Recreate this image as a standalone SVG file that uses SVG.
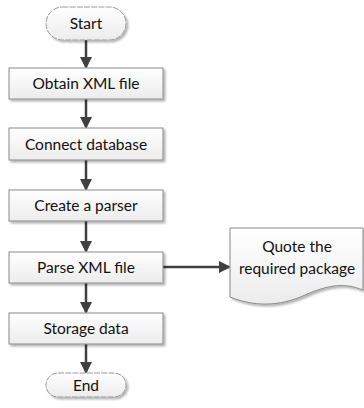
<svg xmlns="http://www.w3.org/2000/svg" width="364" height="408" viewBox="0 0 364 408">
<style>
.box{fill:url(#g);stroke:#8a8a8a;stroke-width:1;filter:url(#sh)}
.term{fill:url(#g);stroke:#9a9a9a;stroke-width:1;stroke-dasharray:6 1.2;filter:url(#sh)}
.t{font-family:Lato,"Liberation Sans",sans-serif;font-size:15.5px;fill:#111;text-anchor:middle}
.c{stroke:#404040;stroke-width:2.5;fill:none;marker-end:url(#ah)}
</style>
<defs>
<linearGradient id="g" x1="0" y1="0" x2="0" y2="1">
<stop offset="0" stop-color="#ffffff"/>
<stop offset="1" stop-color="#ececec"/>
</linearGradient>
<filter id="sh" x="-10%" y="-10%" width="130%" height="140%">
<feGaussianBlur in="SourceAlpha" stdDeviation="1.2"/>
<feOffset dx="1.5" dy="1.5" result="b"/>
<feComponentTransfer><feFuncA type="linear" slope="0.3"/></feComponentTransfer>
<feMerge><feMergeNode/><feMergeNode in="SourceGraphic"/></feMerge>
</filter>
<marker id="ah" markerWidth="5" markerHeight="5" refX="4.2" refY="2.5" orient="auto" markerUnits="strokeWidth">
<path d="M0,0 L5,2.5 L0,5 Z" fill="#404040"/>
</marker>
</defs>
<g id="connectors">
<line class="c" x1="86" y1="40" x2="86" y2="67"/>
<line class="c" x1="86" y1="99" x2="86" y2="127"/>
<line class="c" x1="86" y1="160" x2="86" y2="189"/>
<line class="c" x1="86" y1="221" x2="86" y2="251"/>
<line class="c" x1="86" y1="283" x2="86" y2="312"/>
<line class="c" x1="86" y1="344" x2="86" y2="372"/>
<line class="c" x1="163" y1="267" x2="229" y2="267"/>
</g>
<g id="start">
<rect class="term" x="46" y="7" width="80" height="33" rx="16.5"/>
<text class="t" x="86" y="29">Start</text>
</g>
<g id="obtain">
<rect class="box" x="9" y="68" width="154" height="31"/>
<text class="t" x="86" y="89">Obtain XML file</text>
</g>
<g id="connect">
<rect class="box" x="9" y="128" width="154" height="32"/>
<text class="t" x="86" y="149.5">Connect database</text>
</g>
<g id="parser">
<rect class="box" x="9" y="190" width="154" height="31"/>
<text class="t" x="86" y="211">Create a parser</text>
</g>
<g id="parse">
<rect class="box" x="9" y="252" width="154" height="31"/>
<text class="t" x="86" y="273">Parse XML file</text>
</g>
<g id="storage">
<rect class="box" x="9" y="313" width="154" height="31"/>
<text class="t" x="86" y="334">Storage data</text>
</g>
<g id="end">
<rect class="term" x="46" y="373" width="80" height="24" rx="12"/>
<text class="t" x="86" y="390.5">End</text>
</g>
<g id="quote">
<path class="box" d="M230,228 H363 V290 C345,283 330,284 305,295 C285,304 260,309 230,297 Z"/>
<text class="t" x="297" y="252">Quote the</text>
<text class="t" x="297" y="274">required package</text>
</g>
</svg>
